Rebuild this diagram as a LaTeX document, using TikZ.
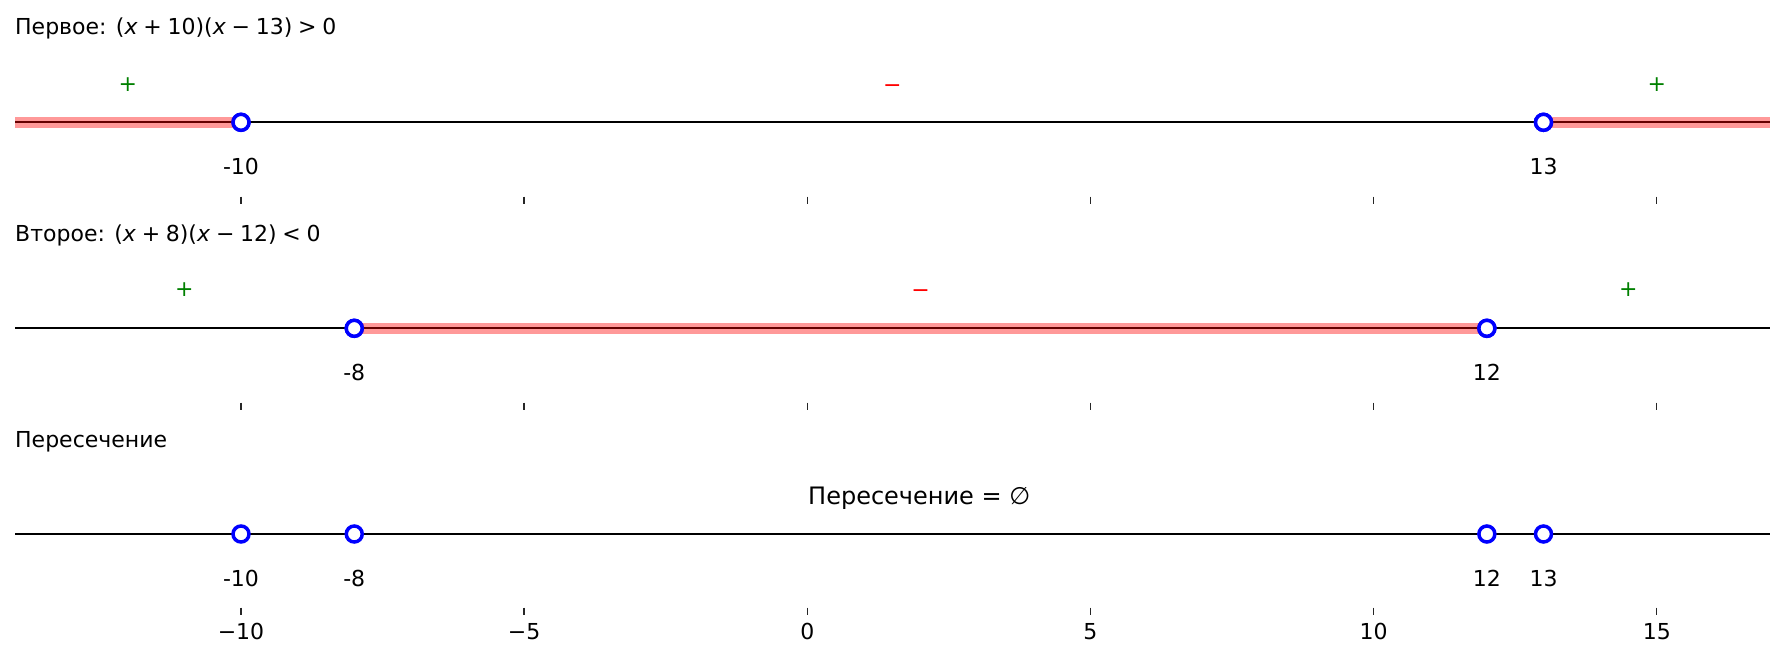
\documentclass[tikz,border=0pt]{standalone}
\usepackage{fontspec}
\setmainfont{DejaVu Sans}
\def\pxo{807.3}
\def\pxs{56.63}
\newcommand\opsp{\hspace{0.26em}}
\begin{document}
\begin{tikzpicture}[x=1pt,y=-1pt,
  txt/.style={font=\fontsize{22}{26}\selectfont, inner sep=0pt, text=black},
  bigtxt/.style={font=\fontsize{24}{28}\selectfont, inner sep=0pt, text=black},
  axisline/.style={line width=2pt, black},
  band/.style={line width=10.5pt, red, opacity=0.4},
  opendot/.style={circle, draw=blue, fill=white, line width=3.5pt, minimum size=16pt, inner sep=0pt},
  tickmark/.style={line width=1.4pt, black!85},
  plussign/.style={txt, text={rgb,255:red,0;green,128;blue,0}},
  minussign/.style={txt, text=red}]
\useasboundingbox (0,0) rectangle (1785,658);

% ---------- Row 1 ----------
\node[txt, anchor=base west] (t1) at (15,35) {Первое: (\textit{x}\opsp+\opsp10)(\textit{x}\opsp−\opsp13)\opsp>\opsp0};
\coordinate (r1l) at (15,122.3);
\coordinate (r1r) at (1770,122.3);
\draw[axisline] (r1l) -- (r1r);
\node[opendot] (p1a) at ({\pxo+\pxs*(-10)},122.3) {};
\node[opendot] (p1b) at ({\pxo+\pxs*13},122.3) {};
\draw[band] (r1l) -- (p1a.center);
\draw[band] (p1b.center) -- (r1r);
\node[opendot] at (p1a) {};
\node[opendot] at (p1b) {};
\node[plussign] (s1a) at ({\pxo+\pxs*(-12)},85) {+};
\node[minussign] (s1b) at ({\pxo+\pxs*1.5},88.5) {−};
\node[plussign] (s1c) at ({\pxo+\pxs*15},85) {+};
\node[txt, anchor=base] (l1a) at ({\pxo+\pxs*(-10)},175) {-10};
\node[txt, anchor=base] (l1b) at ({\pxo+\pxs*13},175) {13};
\foreach \v in {-10,-5,0,5,10,15}
  \draw[tickmark] ({\pxo+\pxs*\v},196.5) -- ({\pxo+\pxs*\v},203.5);

% ---------- Row 2 ----------
\node[txt, anchor=base west] (t2) at (15,241) {Второе: (\textit{x}\opsp+\opsp8)(\textit{x}\opsp−\opsp12)\opsp<\opsp0};
\coordinate (r2l) at (15,328.3);
\coordinate (r2r) at (1770,328.3);
\draw[axisline] (r2l) -- (r2r);
\node[opendot] (p2a) at ({\pxo+\pxs*(-8)},328.3) {};
\node[opendot] (p2b) at ({\pxo+\pxs*12},328.3) {};
\draw[band] (p2a.center) -- (p2b.center);
\node[opendot] at (p2a) {};
\node[opendot] at (p2b) {};
\node[plussign] (s2a) at ({\pxo+\pxs*(-11)},290) {+};
\node[minussign] (s2b) at ({\pxo+\pxs*2},293.5) {−};
\node[plussign] (s2c) at ({\pxo+\pxs*14.5},290) {+};
\node[txt, anchor=base] (l2a) at ({\pxo+\pxs*(-8)},380.7) {-8};
\node[txt, anchor=base] (l2b) at ({\pxo+\pxs*12},380.7) {12};
\foreach \v in {-10,-5,0,5,10,15}
  \draw[tickmark] ({\pxo+\pxs*\v},402.5) -- ({\pxo+\pxs*\v},409.5);

% ---------- Row 3 ----------
\node[txt, anchor=base west] (t3) at (15,447) {Пересечение};
\coordinate (r3l) at (15,534);
\coordinate (r3r) at (1770,534);
\draw[axisline] (r3l) -- (r3r);
\node[opendot] (p3a) at ({\pxo+\pxs*(-10)},534) {};
\node[opendot] (p3b) at ({\pxo+\pxs*(-8)},534) {};
\node[opendot] (p3c) at ({\pxo+\pxs*12},534) {};
\node[opendot] (p3d) at ({\pxo+\pxs*13},534) {};
\node[bigtxt, anchor=base west] (res) at (808,504) {Пересечение = ∅};
\node[txt, anchor=base] (l3a) at ({\pxo+\pxs*(-10)},586.7) {-10};
\node[txt, anchor=base] (l3b) at ({\pxo+\pxs*(-8)},586.7) {-8};
\node[txt, anchor=base] (l3c) at ({\pxo+\pxs*12},586.7) {12};
\node[txt, anchor=base] (l3d) at ({\pxo+\pxs*13},586.7) {13};
\foreach \v/\lab in {-10/−10,-5/−5,0/0,5/5,10/10,15/15}{
  \draw[tickmark] ({\pxo+\pxs*\v},607.5) -- ({\pxo+\pxs*\v},614.5);
  \node[txt, anchor=base] at ({\pxo+\pxs*\v},639) {\lab};
}
\end{tikzpicture}
\end{document}
